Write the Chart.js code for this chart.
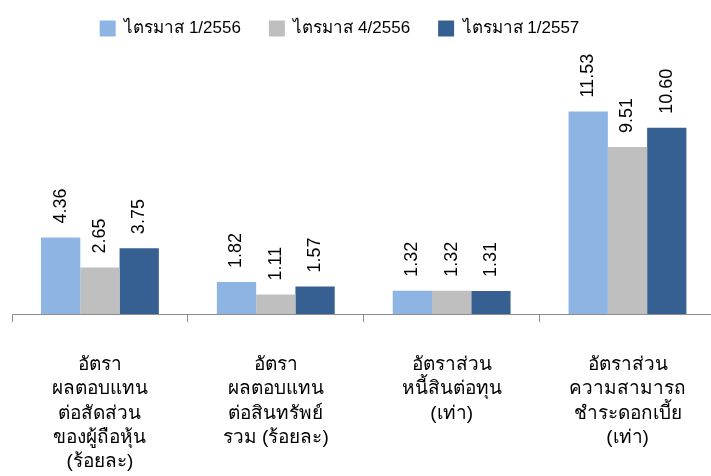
<!DOCTYPE html>
<html>
<head>
<meta charset="utf-8">
<script src="https://cdn.jsdelivr.net/npm/chart.js@4.4.1/dist/chart.umd.min.js"></script>
<style>
html,body{margin:0;padding:0;background:#fff;overflow:hidden;}
#wrap{width:717px;height:476px;}
</style>
</head>
<body>
<div id="wrap"><canvas id="c" width="717" height="476"></canvas></div>
<script>
const categories = [
  ["อัตรา","ผลตอบแทน","ต่อสัดส่วน","ของผู้ถือหุ้น","(ร้อยละ)"],
  ["อัตรา","ผลตอบแทน","ต่อสินทรัพย์","รวม (ร้อยละ)"],
  ["อัตราส่วน","หนี้สินต่อทุน","(เท่า)"],
  ["อัตราส่วน","ความสามารถ","ชำระดอกเบี้ย","(เท่า)"]
];
const seriesNames = ["ไตรมาส 1/2556","ไตรมาส 4/2556","ไตรมาส 1/2557"];
const q1_2556 = [4.36, 1.82, 1.32, 11.53];
const q4_2556 = [2.65, 1.11, 1.32, 9.51];
const q1_2557 = [3.75, 1.57, 1.31, 10.60];
const colors = ["#8DB4E2", "#BFBFBF", "#366092"];

const FONT = "'Liberation Sans', Arial, sans-serif";

const valueLabels = {
  id: 'valueLabels',
  afterDatasetsDraw(chart) {
    const ctx = chart.ctx;
    ctx.save();
    ctx.font = "18px " + FONT;
    ctx.fillStyle = "#000";
    ctx.textAlign = "left";
    ctx.textBaseline = "middle";
    chart.data.datasets.forEach((ds, di) => {
      const meta = chart.getDatasetMeta(di);
      meta.data.forEach((bar, i) => {
        ctx.save();
        ctx.translate(bar.x, bar.y - 14);
        ctx.rotate(-Math.PI / 2);
        ctx.fillText(ds.data[i].toFixed(2), 0, 0);
        ctx.restore();
      });
    });
    ctx.restore();
  }
};

// shift the legend block slightly left, as in the reference
const legendShift = {
  id: 'legendShift',
  afterLayout(chart) {
    const lg = chart.legend;
    if (lg) { lg.left -= 25; lg.right -= 25; }
  }
};

new Chart(document.getElementById('c'), {
  type: 'bar',
  data: {
    labels: categories,
    datasets: [
      { label: seriesNames[0], data: q1_2556, backgroundColor: colors[0] },
      { label: seriesNames[1], data: q4_2556, backgroundColor: colors[1] },
      { label: seriesNames[2], data: q1_2557, backgroundColor: colors[2] }
    ]
  },
  options: {
    responsive: false,
    animation: false,
    events: [],
    layout: { padding: { left: 12, right: 0, top: -8, bottom: 0 } },
    datasets: { bar: { categoryPercentage: 0.67, barPercentage: 1.0 } },
    plugins: {
      legend: {
        position: 'top',
        labels: {
          boxWidth: 16, boxHeight: 16, padding: 28,
          color: '#000',
          font: { family: FONT, size: 17 }
        }
      },
      tooltip: { enabled: false }
    },
    scales: {
      x: {
        grid: { display: true, drawOnChartArea: false, drawTicks: true, tickLength: 8, offset: true, color: '#8C8C8C' },
        border: { display: true, color: '#8C8C8C', width: 1 },
        ticks: { color: '#000', font: { family: FONT, size: 19, lineHeight: 1.27 }, padding: 31, maxRotation: 0, autoSkip: false },
        afterFit(scale) { scale.height = 162; }
      },
      y: {
        display: false,
        min: 0,
        max: 15.2
      }
    }
  },
  plugins: [valueLabels, legendShift]
});
</script>
</body>
</html>
